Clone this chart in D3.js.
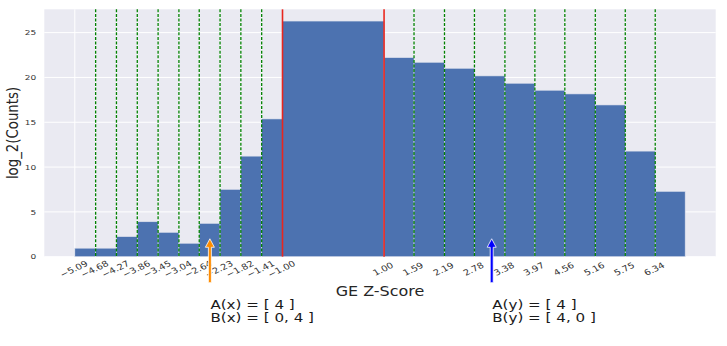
<!DOCTYPE html>
<html>
<head>
<meta charset="utf-8">
<script src="https://cdn.jsdelivr.net/npm/d3@7/dist/d3.min.js"></script>
<style>
	body { margin: 0; background: #fff; }
	text { font-family: "DejaVu Sans", sans-serif; }
</style>
</head>
<body>
<svg id="viz"></svg>
<script>

// the data
var binEdges = [-5.09, -4.68, -4.27, -3.86, -3.45, -3.04, -2.64, -2.23, -1.82, -1.41, -1.00,
	1.00, 1.59, 2.19, 2.78, 3.38, 3.97, 4.56, 5.16, 5.75, 6.34, 6.93];
var logCounts = [0.95, 0.95, 2.24, 3.9, 2.72, 1.5, 3.72, 7.51, 11.22, 15.37, 26.29,
	22.21, 21.69, 21.02, 20.17, 19.35, 18.57, 18.16, 16.93, 11.78, 7.29];
var tickLabels = ["\u22125.09", "\u22124.68", "\u22124.27", "\u22123.86", "\u22123.45", "\u22123.04",
	"\u22122.64", "\u22122.23", "\u22121.82", "\u22121.41", "\u22121.00",
	"1.00", "1.59", "2.19", "2.78", "3.38", "3.97", "4.56", "5.16", "5.75", "6.34"];
var redLines = [-1.00, 1.00];
var greenLines = [-4.68, -4.27, -3.86, -3.45, -3.04, -2.64, -2.23, -1.82, -1.41,
	1.59, 2.19, 2.78, 3.38, 3.97, 4.56, 5.16, 5.75, 6.34];
var yTicks = [0, 5, 10, 15, 20, 25];
var arrowX = [-2.43, 3.12];
var arrowColors = ["#ff8c00", "#0000ff"];
var notesA = ["A(x) = [ 4 ]", "A(y) = [ 4 ]"];
var notesB = ["B(x) = [ 0, 4 ]", "B(y) = [ 4, 0 ]"];



// set up the svg
var w = 727;
var h = 346;
var viz = d3.select("#viz").attr("width", w).attr("height", h);

// the picture is a little wider than tall, so text gets stretched
var sx = 1.2;
var pl = 44.3, pr = 715.7, pt = 9.3, pb = 256.7;
var x = d3.scaleLinear().domain([-5.691, 7.531]).range([pl, pr]);
var y = d3.scaleLinear().domain([0, 27.6]).range([pb, pt]);

var bins = logCounts.map(function(v, i) {
	return {x0: binEdges[i], x1: binEdges[i + 1], v: v};
});



// background and grid
viz.append("rect")
	.attr("x", pl).attr("y", pt)
	.attr("width", pr - pl).attr("height", pb - pt)
	.attr("fill", "#eaeaf2");

viz.selectAll("line.hgrid")
	.data(yTicks)
	.enter()
	.append("line")
	.attr("class", "hgrid")
	.attr("x1", pl).attr("x2", pr)
	.attr("y1", function(d) { return y(d); })
	.attr("y2", function(d) { return y(d); })
	.attr("stroke", "#fff").attr("stroke-width", 1);

viz.selectAll("line.vgrid")
	.data(binEdges.slice(0, tickLabels.length))
	.enter()
	.append("line")
	.attr("class", "vgrid")
	.attr("x1", function(d) { return x(d); })
	.attr("x2", function(d) { return x(d); })
	.attr("y1", pt).attr("y2", pb)
	.attr("stroke", "#fff").attr("stroke-width", 1);



// draw the bars
viz.selectAll("rect.bar")
	.data(bins)
	.enter()
	.append("rect")
	.attr("class", "bar")
	.attr("x", function(d) { return x(d.x0); })
	.attr("width", function(d) { return x(d.x1) - x(d.x0); })
	.attr("y", function(d) { return y(d.v); })
	.attr("height", function(d) { return y(0) - y(d.v); })
	.attr("fill", "#4c72b0")
	.attr("stroke", "#dfe3ee")
	.attr("stroke-width", 0.6);



// marker lines
viz.selectAll("line.green")
	.data(greenLines)
	.enter()
	.append("line")
	.attr("class", "green")
	.attr("x1", function(d) { return x(d); })
	.attr("x2", function(d) { return x(d); })
	.attr("y1", pt).attr("y2", pb)
	.attr("stroke", "#008000").attr("stroke-width", 1.3)
	.attr("stroke-dasharray", "3,1.6");

viz.selectAll("line.red")
	.data(redLines)
	.enter()
	.append("line")
	.attr("class", "red")
	.attr("x1", function(d) { return x(d); })
	.attr("x2", function(d) { return x(d); })
	.attr("y1", pt).attr("y2", pb)
	.attr("stroke", "#e8261e").attr("stroke-width", 1.6);



// axes labels
viz.selectAll("text.ytick")
	.data(yTicks)
	.enter()
	.append("text")
	.attr("class", "ytick")
	.attr("transform", function(d) {
		return "translate(" + (pl - 8) + "," + y(d) + ") scale(" + sx + ",1)";
	})
	.attr("dy", "0.35em")
	.attr("text-anchor", "end")
	.attr("font-size", 7.5)
	.attr("fill", "#333")
	.text(function(d) { return d; });

viz.selectAll("text.xtick")
	.data(tickLabels)
	.enter()
	.append("text")
	.attr("class", "xtick")
	.attr("transform", function(d, i) {
		return "translate(" + (x(binEdges[i]) - 1) + ",269) scale(" + sx + ",1) rotate(-30)";
	})
	.attr("dy", "0.35em")
	.attr("text-anchor", "middle")
	.attr("font-size", 8.2)
	.attr("fill", "#333")
	.text(function(d) { return d; });

viz.append("text")
	.attr("transform", "translate(" + ((pl + pr) / 2) + ",296) scale(" + sx + ",1)")
	.attr("text-anchor", "middle")
	.attr("font-size", 13.3)
	.attr("fill", "#262626")
	.text("GE Z-Score");

viz.append("text")
	.attr("transform", "translate(17.5," + ((pt + pb) / 2) + ") scale(" + sx + ",1) rotate(-90)")
	.attr("text-anchor", "middle")
	.attr("font-size", 13.3)
	.attr("fill", "#262626")
	.text("log_2(Counts)");



// arrows and notes
var tipY = y(2), tailY = y(-2.9);
viz.selectAll("path.arrow")
	.data(arrowX)
	.enter()
	.append("path")
	.attr("class", "arrow")
	.attr("d", function(d) {
		var cx = x(d);
		return "M" + (cx - 1.5) + "," + tailY +
			"L" + (cx - 1.5) + "," + (tipY + 8.5) +
			"L" + (cx - 4.5) + "," + (tipY + 8.5) +
			"L" + cx + "," + tipY +
			"L" + (cx + 4.5) + "," + (tipY + 8.5) +
			"L" + (cx + 1.5) + "," + (tipY + 8.5) +
			"L" + (cx + 1.5) + "," + tailY + "Z";
	})
	.attr("fill", function(d, i) { return arrowColors[i]; })
	.attr("stroke", "#fff").attr("stroke-width", 0.8);

viz.selectAll("text.noteA")
	.data(notesA)
	.enter()
	.append("text")
	.attr("class", "noteA")
	.attr("transform", function(d, i) {
		return "translate(" + (x(arrowX[i]) + 0.5) + ",309) scale(" + sx + ",1)";
	})
	.attr("font-size", 12.6)
	.attr("fill", "#1a1a1a")
	.text(function(d) { return d; });

viz.selectAll("text.noteB")
	.data(notesB)
	.enter()
	.append("text")
	.attr("class", "noteB")
	.attr("transform", function(d, i) {
		return "translate(" + (x(arrowX[i]) + 0.5) + ",321.5) scale(" + sx + ",1)";
	})
	.attr("font-size", 12.6)
	.attr("fill", "#1a1a1a")
	.text(function(d) { return d; });

</script>
</body>
</html>
